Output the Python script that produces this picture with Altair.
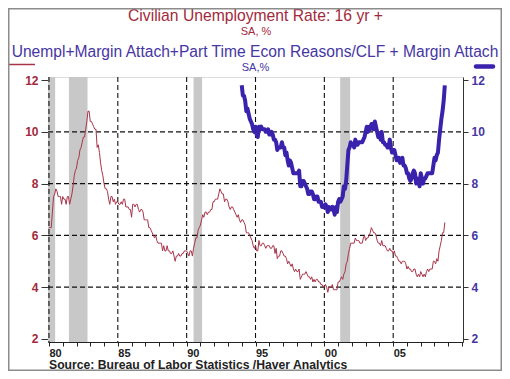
import altair as alt
import pandas as pd

# ---------------- data ----------------
unrate_start = 1980  # monthly, civilian unemployment rate 16+, SA %
unrate = [
    6.3, 6.3, 6.3, 6.9, 7.5, 7.6, 7.8, 7.7, 7.5, 7.5, 7.5, 7.2,
    7.5, 7.4, 7.4, 7.2, 7.5, 7.5, 7.2, 7.4, 7.6, 7.9, 8.3, 8.5,
    8.6, 8.9, 9.0, 9.3, 9.4, 9.6, 9.8, 9.8, 10.1, 10.4, 10.8, 10.8,
    10.4, 10.4, 10.3, 10.2, 10.1, 10.1, 9.4, 9.5, 9.2, 8.8, 8.5, 8.3,
    8.0, 7.8, 7.8, 7.7, 7.4, 7.2, 7.5, 7.5, 7.3, 7.4, 7.2, 7.3,
    7.3, 7.2, 7.2, 7.3, 7.2, 7.4, 7.4, 7.1, 7.1, 7.1, 7.0, 7.0,
    6.7, 7.2, 7.2, 7.1, 7.2, 7.2, 7.0, 6.9, 7.0, 7.0, 6.9, 6.6,
    6.6, 6.6, 6.6, 6.3, 6.3, 6.2, 6.1, 6.0, 5.9, 6.0, 5.8, 5.7,
    5.7, 5.7, 5.7, 5.4, 5.6, 5.4, 5.4, 5.6, 5.4, 5.4, 5.3, 5.3,
    5.4, 5.2, 5.0, 5.2, 5.2, 5.3, 5.2, 5.2, 5.3, 5.3, 5.4, 5.4,
    5.4, 5.3, 5.2, 5.4, 5.4, 5.2, 5.5, 5.7, 5.9, 5.9, 6.2, 6.3,
    6.4, 6.6, 6.8, 6.7, 6.9, 6.9, 6.8, 6.9, 6.9, 7.0, 7.0, 7.3,
    7.3, 7.4, 7.4, 7.4, 7.6, 7.8, 7.7, 7.6, 7.6, 7.3, 7.4, 7.4,
    7.3, 7.1, 7.0, 7.1, 7.1, 7.0, 6.9, 6.8, 6.7, 6.8, 6.6, 6.5,
    6.6, 6.6, 6.5, 6.4, 6.1, 6.1, 6.1, 6.0, 5.9, 5.8, 5.6, 5.5,
    5.6, 5.4, 5.4, 5.8, 5.6, 5.6, 5.7, 5.7, 5.6, 5.5, 5.6, 5.6,
    5.6, 5.5, 5.5, 5.6, 5.6, 5.3, 5.5, 5.1, 5.2, 5.2, 5.4, 5.4,
    5.3, 5.2, 5.2, 5.1, 4.9, 5.0, 4.9, 4.8, 4.9, 4.7, 4.6, 4.7,
    4.6, 4.6, 4.7, 4.3, 4.4, 4.5, 4.5, 4.5, 4.6, 4.5, 4.4, 4.4,
    4.3, 4.4, 4.2, 4.3, 4.2, 4.3, 4.3, 4.2, 4.2, 4.1, 4.1, 4.0,
    4.0, 4.1, 4.0, 3.8, 4.0, 4.0, 4.0, 4.1, 3.9, 3.9, 3.9, 3.9,
    4.2, 4.2, 4.3, 4.4, 4.3, 4.5, 4.6, 4.9, 5.0, 5.3, 5.5, 5.7,
    5.7, 5.7, 5.7, 5.9, 5.8, 5.8, 5.8, 5.7, 5.7, 5.7, 5.9, 6.0,
    5.8, 5.9, 5.9, 6.0, 6.1, 6.3, 6.2, 6.1, 6.1, 6.0, 5.8, 5.7,
    5.7, 5.6, 5.8, 5.6, 5.6, 5.6, 5.5, 5.4, 5.4, 5.5, 5.4, 5.4,
    5.3, 5.4, 5.2, 5.2, 5.1, 5.0, 5.0, 4.9, 5.0, 5.0, 5.0, 4.9,
    4.7, 4.8, 4.7, 4.7, 4.6, 4.6, 4.7, 4.7, 4.5, 4.4, 4.5, 4.4,
    4.6, 4.5, 4.4, 4.5, 4.4, 4.6, 4.7, 4.6, 4.7, 4.7, 4.7, 5.0,
    5.0, 4.9, 5.1, 5.0, 5.4, 5.6, 5.8, 6.1, 6.1, 6.5,
]

u6_start = 1994  # monthly, U-6 broad measure, SA %
u6 = [
    11.8, 11.4, 11.4, 11.2, 10.8, 10.9, 10.7, 10.5, 10.4, 10.3, 10.1, 10.0,
    10.2, 9.9, 9.8, 10.2, 10.1, 10.2, 10.1, 10.1, 10.1, 10.0, 10.0, 10.1,
    9.9, 9.9, 10.0, 9.9, 9.7, 9.7, 9.6, 9.3, 9.4, 9.4, 9.4, 9.6,
    9.4, 9.4, 9.1, 9.2, 8.9, 8.7, 8.9, 8.8, 8.6, 8.4, 8.4, 8.4,
    8.4, 8.4, 8.5, 7.9, 7.9, 8.1, 8.1, 8.0, 7.9, 7.8, 7.6, 7.6,
    7.7, 7.7, 7.6, 7.4, 7.4, 7.5, 7.5, 7.3, 7.3, 7.3, 7.1, 7.1,
    7.1, 7.2, 7.1, 6.9, 7.1, 7.0, 7.0, 7.1, 7.0, 6.8, 7.1, 6.9,
    7.3, 7.4, 7.3, 7.4, 7.5, 7.9, 7.8, 8.1, 8.7, 9.3, 9.4, 9.6,
    9.5, 9.5, 9.4, 9.7, 9.5, 9.5, 9.6, 9.6, 9.6, 9.6, 9.7, 9.8,
    10.0, 10.2, 10.0, 10.2, 10.1, 10.3, 10.3, 10.1, 10.4, 10.2, 10.0, 9.8,
    9.9, 9.7, 10.0, 9.6, 9.6, 9.5, 9.5, 9.4, 9.4, 9.7, 9.4, 9.2,
    9.3, 9.3, 9.1, 8.9, 8.9, 9.0, 8.8, 8.9, 9.0, 8.7, 8.7, 8.6,
    8.4, 8.4, 8.2, 8.1, 8.2, 8.4, 8.5, 8.4, 8.0, 8.2, 8.1, 7.9,
    8.4, 8.2, 8.0, 8.2, 8.2, 8.3, 8.4, 8.4, 8.4, 8.4, 8.4, 8.7,
    9.0, 8.9, 9.1, 9.2, 9.7, 10.1, 10.5, 10.8, 11.2, 11.8,
]

rec_start = [1979.93, 1981.45, 1990.5, 2001.15]
rec_end = [1980.45, 1982.8, 1991.12, 2001.87]

grid_years = [1980, 1985, 1990, 1995, 2000, 2005]
grid_levels = [4, 6, 8, 10]
y_values = [2, 4, 6, 8, 10, 12]
x_tick_years = list(range(1980, 2011))

title_red = "Civilian Unemployment Rate: 16 yr +"
sub_red = "SA, %"
title_blue = "Unempl+Margin Attach+Part Time Econ Reasons/CLF + Margin Attach"
sub_blue = "SA,%"
source_text = "Source:  Bureau of Labor Statistics /Haver Analytics"

# ---------------- build ----------------
W, H = 415, 265
XDOM = [1979.93, 2010.07]
YDOM = [1.88, 12.12]
FONT = "Liberation Sans"
RED = "#a8344a"
RED_TXT = "#a3293c"
BLUE = "#3a22ad"
BLUE_TXT = "#4636a3"


def monthly(start, vals):
    return pd.DataFrame({"t": [start + i / 12 for i in range(len(vals))], "v": vals})


df_red = monthly(unrate_start, unrate)
df_blue = monthly(u6_start, u6)
df_rec = pd.DataFrame({"s": rec_start, "e": rec_end})
df_gx = pd.DataFrame({"x": grid_years})
df_gy = pd.DataFrame({"y": grid_levels})
one = pd.DataFrame({"k": [0]})

xscale = alt.Scale(domain=XDOM, nice=False, zero=False)
yscale = alt.Scale(domain=YDOM, nice=False, zero=False)

x_axis = alt.Axis(
    values=x_tick_years,
    labelExpr=("(datum.value % 5 == 0 && datum.value < 2010) ? "
               "((datum.value % 100) < 10 ? '0' + (datum.value % 100) : '' + (datum.value % 100)) : ''"),
    labelAlign="left", labelOffset=0, labelOverlap=False, labelFlush=False,
    tickSize=4, labelPadding=1, grid=False, title=None,
    labelFontSize=11, labelFontWeight="bold", labelColor="#222222", labelFont=FONT,
    domainColor="#222222", tickColor="#222222",
)

rec = alt.Chart(df_rec).mark_rect(color="#c8c8c8").encode(
    x=alt.X("s:Q", scale=xscale, axis=x_axis), x2="e:Q",
    y=alt.value(0), y2=alt.value(H),
)

vgrid = alt.Chart(df_gx).mark_rule(color="#111111", strokeDash=[5, 3], strokeWidth=1.1).encode(
    x=alt.X("x:Q", scale=xscale, axis=x_axis), y=alt.value(0), y2=alt.value(H),
)

hgrid = alt.Chart(df_gy).mark_rule(color="#111111", strokeDash=[5, 3], strokeWidth=1.1).encode(
    y=alt.Y("y:Q", scale=yscale, axis=None), x=alt.value(0), x2=alt.value(W),
)

red_line = alt.Chart(df_red).mark_line(color=RED, strokeWidth=1).encode(
    x=alt.X("t:Q", scale=xscale, axis=x_axis),
    y=alt.Y("v:Q", scale=yscale, axis=alt.Axis(
        orient="left", values=y_values, grid=False, title=None,
        tickSize=7, labelPadding=3, labelFontSize=12, labelFontWeight="bold",
        labelColor=RED_TXT, labelFont=FONT, domainColor="#333333", tickColor="#333333")),
)

blue_line = alt.Chart(df_blue).mark_line(color=BLUE, strokeWidth=4, strokeJoin="round").encode(
    x=alt.X("t:Q", scale=xscale, axis=x_axis),
    y=alt.Y("v:Q", scale=yscale, axis=alt.Axis(
        orient="right", values=y_values, grid=False, title=None,
        tickSize=5, labelPadding=3, labelFontSize=12, labelFontWeight="bold",
        labelColor=BLUE_TXT, labelFont=FONT, domainColor="#333333", tickColor="#333333")),
)


def txt(s, x, y, size, color, align="center", weight="normal"):
    return alt.Chart(one).mark_text(
        text=s, font=FONT, fontSize=size, color=color, align=align,
        baseline="alphabetic", fontWeight=weight,
    ).encode(x=alt.value(x), y=alt.value(y))


t1 = txt(title_red, 207.5, -56.5, 15.7, RED_TXT)
t2 = txt(sub_red, 208, -42.5, 11, RED_TXT)
t3 = txt(title_blue, 207, -20, 15.6, BLUE_TXT)
t4 = txt(sub_blue, 207.5, -6.5, 11, BLUE_TXT)
t5 = txt(source_text, 1, 292, 12.2, "#222222", align="left", weight="bold")

leg_red = alt.Chart(one).mark_rule(color=RED, strokeWidth=1.5).encode(
    x=alt.value(-39), x2=alt.value(-13), y=alt.value(-12.5))
leg_blue = alt.Chart(one).mark_rule(color=BLUE, strokeWidth=4.5, strokeCap="round").encode(
    x=alt.value(428), x2=alt.value(445), y=alt.value(-10.5))

frame = alt.Chart(one).mark_rect(fillOpacity=0, stroke="#8c8c8c", strokeWidth=1.5).encode(
    x=alt.value(-39.25), x2=alt.value(453.25), y=alt.value(-68.25), y2=alt.value(293.25))

chart = alt.layer(
    rec, vgrid, hgrid, red_line, blue_line, t1, t2, t3, t4, t5, leg_red, leg_blue, frame
).resolve_scale(y="independent").properties(
    width=W, height=H,
    autosize=alt.AutoSizeParams(type="none"),
    padding={"left": 40, "top": 69, "right": 39, "bottom": 29},
).configure_view(stroke="#333333", strokeWidth=1).configure(background="white")

chart.save("out.html", embed_options={"renderer": "svg", "actions": False})
